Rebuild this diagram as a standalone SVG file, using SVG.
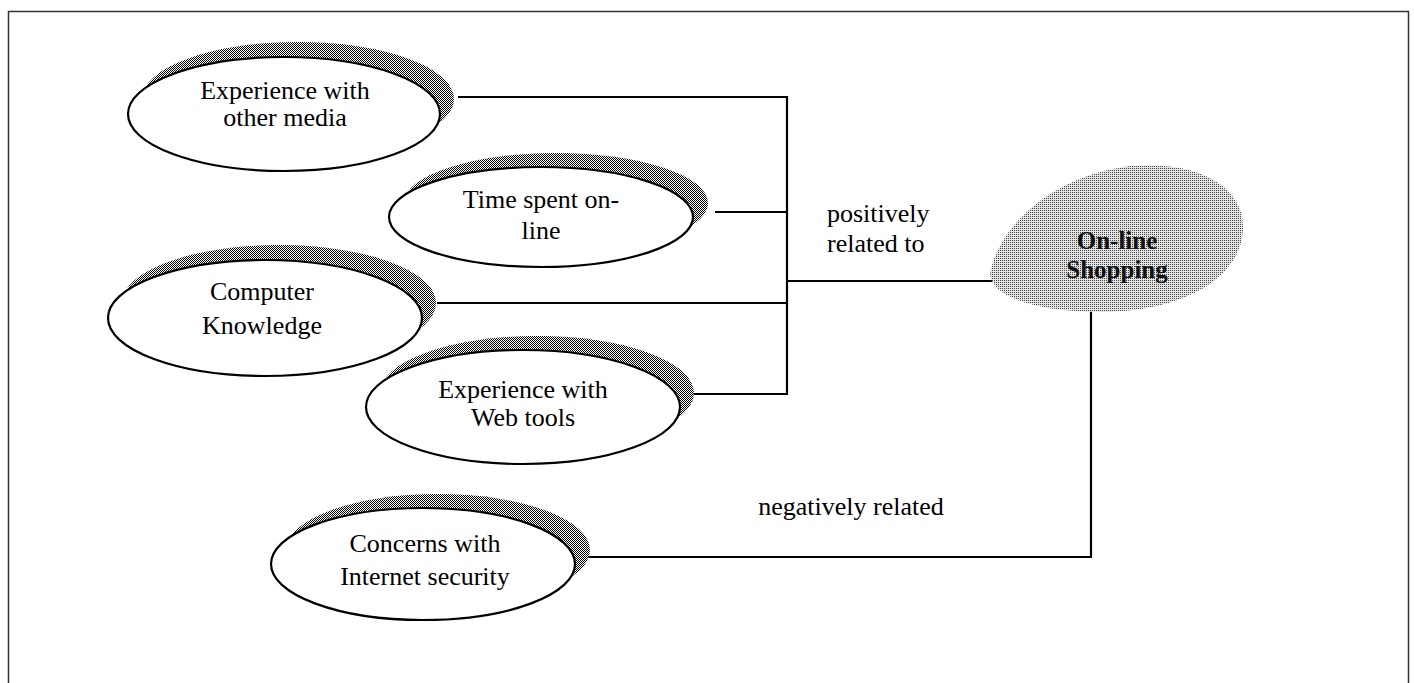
<svg xmlns="http://www.w3.org/2000/svg" width="1414" height="683" viewBox="0 0 1414 683">
<style>
.node{fill:#fff;stroke:#000;stroke-width:2.2}
.shadow{fill:url(#dark);stroke:none}
.lbl{font-family:"Liberation Serif","Times New Roman",serif;font-size:26px;fill:#000;text-anchor:middle}
.edge{font-family:"Liberation Serif","Times New Roman",serif;font-size:26px;fill:#000}
.wire{fill:none;stroke:#000;stroke-width:2.2}
.bold{font-family:"Liberation Serif","Times New Roman",serif;font-size:25px;font-weight:bold;fill:#111;text-anchor:middle}
</style>
<defs>
<pattern id="dark" width="2" height="2" patternUnits="userSpaceOnUse"><rect width="2" height="2" fill="#fff"/><rect width="1" height="1" fill="#000"/><rect x="1" y="1" width="1" height="1" fill="#000"/></pattern>
<pattern id="light" width="2" height="2" patternUnits="userSpaceOnUse"><rect width="2" height="2" fill="#e4e4e4"/><rect width="1" height="1" fill="#444"/></pattern>
</defs>
<rect x="0" y="0" width="1414" height="683" fill="#fff"/>
<rect x="8.5" y="11.5" width="1400" height="700" fill="none" stroke="#333" stroke-width="1.5"/>

<g id="connectors">
<polyline class="wire" points="458,97 787,97 787,394 692,394"/>
<line class="wire" x1="715" y1="212" x2="787" y2="212"/>
<line class="wire" x1="437" y1="303" x2="787" y2="303"/>
<line class="wire" x1="787" y1="281" x2="997" y2="281"/>
<polyline class="wire" points="575,557 1091,557 1091,305"/>
<text class="edge" x="827" y="222">positively</text>
<text class="edge" x="827" y="252">related to</text>
<text class="edge" x="851" y="515" text-anchor="middle">negatively related</text>
</g>

<g id="n1">
<ellipse class="shadow" cx="298" cy="99" rx="156" ry="57"/>
<ellipse class="node" cx="284" cy="114" rx="156" ry="57"/>
<text class="lbl" x="285" y="99">Experience with</text>
<text class="lbl" x="285" y="126">other media</text>
</g>

<g id="n2">
<ellipse class="shadow" cx="556" cy="203" rx="152" ry="50"/>
<ellipse class="node" cx="541" cy="217" rx="152" ry="50"/>
<text class="lbl" x="541" y="208">Time spent on-</text>
<text class="lbl" x="541" y="239">line</text>
</g>

<g id="n3">
<ellipse class="shadow" cx="279" cy="303" rx="157" ry="58"/>
<ellipse class="node" cx="265" cy="318" rx="157" ry="58"/>
<text class="lbl" x="262" y="300">Computer</text>
<text class="lbl" x="262" y="334">Knowledge</text>
</g>

<g id="n4">
<ellipse class="shadow" cx="537" cy="393" rx="157" ry="57"/>
<ellipse class="node" cx="523" cy="407" rx="157" ry="57"/>
<text class="lbl" x="523" y="398">Experience with</text>
<text class="lbl" x="523" y="426">Web tools</text>
</g>

<g id="n5">
<ellipse class="shadow" cx="438" cy="550" rx="152" ry="56"/>
<ellipse class="node" cx="423" cy="564" rx="152" ry="56"/>
<text class="lbl" x="425" y="552">Concerns with</text>
<text class="lbl" x="425" y="585">Internet security</text>
</g>

<g id="n6">
<path d="M 990 274 C 998 228, 1050 176, 1130 166 C 1200 160, 1245 188, 1243 230 C 1240 280, 1180 312, 1100 312 C 1040 312, 992 298, 990 274 Z" fill="url(#light)"/>
<text class="bold" x="1117" y="249">On-line</text>
<text class="bold" x="1117" y="278">Shopping</text>
</g>
</svg>
